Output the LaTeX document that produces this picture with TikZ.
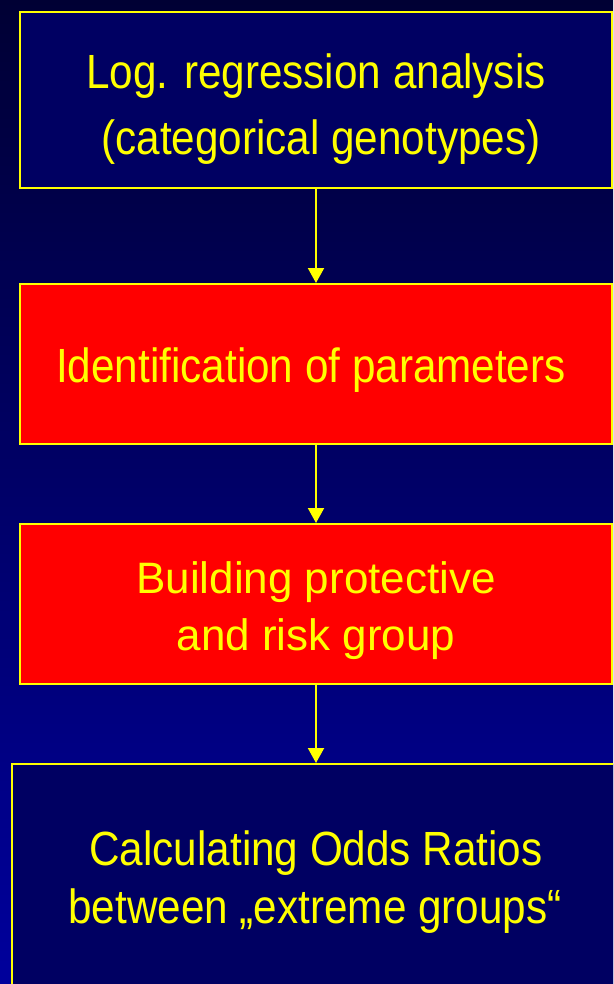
\documentclass[tikz,border=0pt]{standalone}
\usepackage{fontspec}
\setmainfont{Liberation Sans}
\newfontfamily\narrowfont[FakeStretch=0.88]{Liberation Sans}
\usetikzlibrary{arrows.meta}
\definecolor{bgtop}{HTML}{000034}
\definecolor{bgbot}{HTML}{00009C}
\definecolor{boxblue}{HTML}{000062}
\definecolor{boxred}{HTML}{FF0000}
\definecolor{ylw}{HTML}{FFFF00}
\begin{document}
\begin{tikzpicture}[x=1pt,y=-1pt,
  box/.style={draw=ylw, line width=2pt, rectangle, inner sep=0pt},
  bluebox/.style={box, fill=boxblue},
  redbox/.style={box, fill=boxred},
  ntext/.style={anchor=base, inner sep=0pt, text=ylw, font=\narrowfont\fontsize{48}{58}\selectfont},
  wtext/.style={anchor=base, inner sep=0pt, text=ylw, font=\fontsize{44}{53}\selectfont},
  arr/.style={draw=ylw, line width=2pt, -{Triangle[width=16pt,length=15pt]}}
]
\useasboundingbox (0,0) rectangle (613,984);
\shade[top color=bgtop, bottom color=bgbot] (0,0) rectangle (613,984);
\clip (0,0) rectangle (613,984);

\node[bluebox, minimum width=592pt, minimum height=176pt] (b1) at (316,100) {};
\node[redbox, minimum width=592pt, minimum height=160pt] (b2) at (316,364) {};
\node[redbox, minimum width=592pt, minimum height=160pt] (b3) at (316,604) {};
\node[bluebox, minimum width=610pt, minimum height=240pt] (b4) at (317,884) {};

\node[ntext] (t1a) at (316,89) {Log. regression analysis};
\node[ntext] (t1b) at (321,155) {(categorical genotypes)};
\node[ntext] (t2) at (311,382) {Identification of parameters};
\node[wtext] (t3a) at (316,593) {Building protective};
\node[wtext] (t3b) at (316,650) {and risk group};
\node[ntext] (t4a) at (316,865) {Calculating Odds Ratios};
\node[ntext] (t4b) at (315,923) {between „extreme groups“};

\draw[arr] (b1.south) -- (b2.north);
\draw[arr] (b2.south) -- (b3.north);
\draw[arr] (b3.south) -- (b3.south |- b4.north);
\end{tikzpicture}
\end{document}
